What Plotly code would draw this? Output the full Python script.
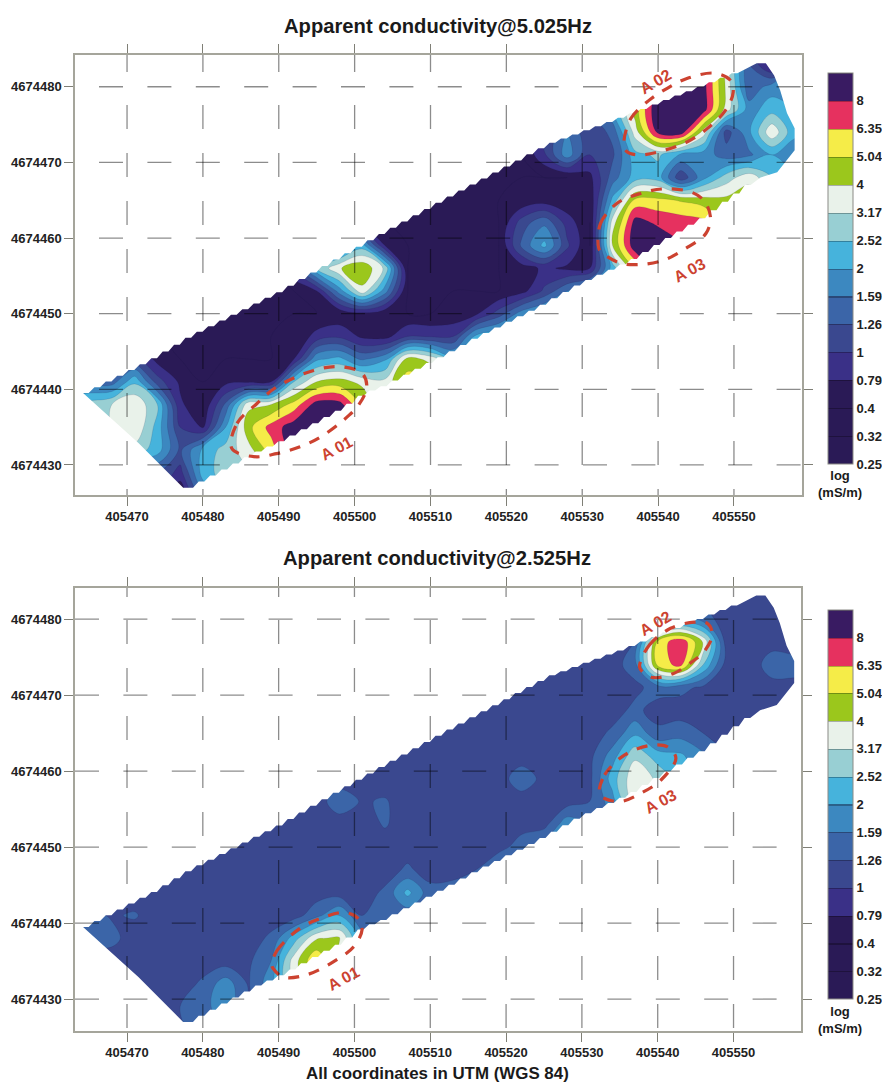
import numpy as np
import plotly.graph_objects as go

# ---- axis / scale data (coordinates shown as offsets added to the bases below)
X_BASE = 405000
Y_BASE = 4674000
X_TICKS = [405470, 405480, 405490, 405500, 405510, 405520, 405530, 405540, 405550]
Y_TICKS = [4674430, 4674440, 4674450, 4674460, 4674470, 4674480]
CLASS_LABELS = ["0.25", "0.32", "0.4", "0.79", "1", "1.26", "1.59", "2", "2.52", "3.17", "4", "5.04", "6.35", "8"]
CLASS_COLORS = ["#2a1a56", "#2a1a56", "#2a1a56", "#3a3087", "#3a488f", "#3b65a8", "#3c88c0", "#46b3dc",
                "#98cfd3", "#e9f2ea", "#9bc71c", "#f5ec48", "#e6315f", "#391b62"]

GRID_X = [462, 465, 468, 471, 474, 477, 480, 483, 486, 489, 492, 495, 498, 501, 504, 507, 510, 513, 516, 519,
          522, 525, 528, 531, 534, 537, 540, 543, 546, 549, 552, 555, 558, 561]
GRID_Y = [486, 483, 480, 477, 474, 471, 468, 465, 462, 459, 456, 453, 450, 447, 444, 441, 438, 435, 432, 429, 426]

# ---- conductivity, as position on the class scale (0 = 0.25 ... 13 = 8)
Z_5HZ = [
    [2]*22 + [5, 5, 6, 8, 12, 14, 13.5, 9.5, 5, 2.5, 6, 7],
    [2]*22 + [5, 5, 6, 8, 12, 14, 13.5, 9.5, 5, 2.5, 6, 7],
    [2]*22 + [5, 5, 6.5, 9, 13.2, 14, 13.4, 9.8, 5.2, 6.5, 7, 7],
    [2]*21 + [3, 5, 5, 7, 10.5, 14, 14, 13.5, 9.5, 6.5, 7.6, 7, 7],
    [2]*21 + [4, 6, 4.2, 5.3, 9.5, 13.3, 13.6, 9.5, 4.5, 6.8, 9.8, 7.2, 7],
    [2]*21 + [3.8, 6.6, 4, 4.8, 7.7, 8.2, 6.8, 6.5, 5.5, 5.8, 7, 6.5, 6.5],
    [2]*23 + [2.7, 5.5, 7.5, 7.5, 4.2, 6.7, 8.5, 9.7, 8, 7, 7],
    [2]*20 + [2.2, 2.5, 2.2, 2.2, 7.3, 11.3, 11.3, 10.9, 10.5, 10.3, 10.6, 8, 7, 7],
    [2]*20 + [4.5, 5.8, 3.6, 2, 9.5, 13.5, 12.8, 12.6, 12.3, 10.5, 9, 8, 7, 7],
    [2]*12 + [5.5, 7.5, 3, 2, 2, 2, 2, 2, 5.2, 7.3, 4.2, 2, 10, 13.8, 14, 13, 12, 10, 9, 8, 7, 7],
    [2]*10 + [4, 8, 9.9, 10.9, 8.8, 2, 2, 2, 2, 2, 2.5, 3.2, 2.8, 3, 7.5, 11, 13, 13, 12, 10, 9, 8, 7, 7],
    [2]*11 + [3, 6.5, 9.7, 6.5, 2, 2, 2, 2, 2, 2.6, 4.2, 6, 7.5, 8, 9, 9, 9, 9, 9, 9, 8, 7, 7],
    [2]*12 + [2.2, 2.7, 2.2, 2, 2, 2.2, 2.8, 4.5, 6.5, 7.5, 8, 8, 8, 8, 8, 8, 8, 8, 8, 8, 8, 8],
    [2]*10 + [2.1, 3.4, 3.8, 2.8, 2.6, 4, 3.9, 4, 7.3, 8, 8, 8, 8, 8, 8, 8, 8, 8, 8, 8, 8, 8, 8, 8],
    [6, 6, 6, 4.5, 2.6, 2, 2, 2, 2, 2, 3, 6.8, 7.3, 5.8, 6.8, 10.4, 9.7, 7.5, 8, 8, 8, 8, 8, 8, 8, 8, 8, 8, 8, 8, 8, 8, 8, 8],
    [5.5, 5.5, 5.5, 7.8, 4.5, 2.8, 2, 2.7, 2.8, 3, 8, 10, 10.4, 9.7, 9.3, 11.5, 11, 9, 8, 8, 8, 8, 8, 8, 8, 8, 8, 8, 8, 8, 8, 8, 8, 8],
    [8, 8.5, 9, 9.9, 8, 3.2, 2.1, 5.2, 9.7, 10, 11.4, 13.5, 13.4, 11, 9, 11, 9, 9, 9, 9, 9, 9, 9, 9, 9, 9, 9, 9, 9, 9, 9, 9, 9, 9],
    [8, 8.5, 9, 9.9, 7.6, 4, 2.9, 7, 10.7, 12.4, 13.6, 14, 14, 13, 11, 10, 9, 9, 9, 9, 9, 9, 9, 9, 9, 9, 9, 9, 9, 9, 9, 9, 9, 9],
    [9, 9, 9, 8.6, 7.5, 4.8, 7.3, 8.4, 9.6, 11.5, 13.5, 14, 14, 13, 11, 10, 9, 9, 9, 9, 9, 9, 9, 9, 9, 9, 9, 9, 9, 9, 9, 9, 9, 9],
    [5, 5, 5, 5, 5, 3.6, 7.5, 8.5, 9, 10, 11, 12, 12, 12, 11, 10, 9, 9, 9, 9, 9, 9, 9, 9, 9, 9, 9, 9, 9, 9, 9, 9, 9, 9],
    [4, 4, 4, 4, 4, 2, 6, 8, 9, 10, 11, 12, 12, 12, 11, 10, 9, 9, 9, 9, 9, 9, 9, 9, 9, 9, 9, 9, 9, 9, 9, 9, 9, 9],
]
B = 4.5
Z_2HZ = [
    [B]*34,
    [B]*34,
    [B]*27 + [6, 5.5] + [B]*5,
    [B]*25 + [5, 11.2, 12.9, 9.9, 4.6, B, 4.7, B, B],
    [B]*25 + [5.6, 11.3, 12.4, 8, 4.6, B, 5.4, 5.4, 5.4],
    [B]*25 + [4.7, 5.5, 5.3, 4.8, B, B, 4.7, 4.7, B],
    [B]*25 + [5.3] + [B]*8,
    [B]*24 + [5.2, 6.8, 5.3, 5.6, 5] + [B]*5,
    [B]*23 + [4.7, 6.5, 8.8, 7.5, 7.2, 6.2, 5] + [B]*4,
    [B]*20 + [5.6, 4.7, B, 4.7, 7.5, 9.8, 8.8, 7.5, 6.5, 5] + [B]*4,
    [B]*12 + [5.6, 4.9, 5.1] + [B]*7 + [4.5, 5, 6.5, 9.6, 9, 7.5, 6] + [B]*5,
    [B]*14 + [5.1] + [B]*6 + [4.6, 6.7, 6, 6] + [5]*9,
    [B]*19 + [4.5, 5.6, 6.5, 6.8, 6.5] + [6]*10,
    [B]*15 + [5.2, B, B, 5, 6.5, 7] + [7]*13,
    [B]*14 + [5.2, 7.3, 5.4, 5.6, 6] + [6.5]*15,
    [5.3, 5.3, 4.9, 5.1] + [B]*7 + [5.7, 7, 5, 5.1, 5.3, 5] + [5.5]*17,
    [5.4, 5.4, 5.3] + [B]*6 + [5.2, 7.5, 9.9, 10.15, 6.5, 5] + [5]*19,
    [B]*8 + [4.8, 6, 9.5, 12, 9.3, 6] + [5]*20,
    [B]*6 + [5.2, 6.6, 4.9, 6.6, 9, 11, 9, 6] + [5]*20,
    [B]*5 + [5, 5.6, 6.7, 4.9] + [5.5]*25,
    [B]*5 + [4.8, 5.6, 6] + [5.5]*26,
]

# ---- survey strip outline (same in both maps)
TOP_EDGE_X = [464.2, 473.4, 478.0, 484.0, 490.0, 495.5, 501.7, 511.3, 525.4, 535.0, 550.0]
TOP_EDGE_Y = [439.5, 444.2, 447.0, 450.0, 453.0, 456.2, 459.7, 465.0, 472.5, 476.0, 481.9]
TIP_X = [553.0, 554.2, 555.3, 556.1, 557.0, 558.0, 558.0, 555.7, 553.5]
TIP_Y = [483.1, 483.1, 481.5, 479.5, 476.5, 474.5, 471.6, 468.7, 468.0]
BOTTOM_EDGE_X = [552.2, 546.5, 541.2, 536.8, 530.2, 524.5, 516.6, 512.2, 503.8, 501.7, 499.0, 491.1, 487.5, 481.3, 478.7]
BOTTOM_EDGE_Y = [467.0, 462.8, 459.7, 457.0, 454.0, 450.8, 446.9, 444.5, 440.2, 439.5, 437.6, 433.3, 431.7, 428.4, 427.0]
SOUTH_X = [477.4, 471.5, 464.2]
SOUTH_Y = [427.0, 432.9, 439.5]

# ---- anomaly outlines and labels, one tuple per map
A01_TOP = ([483.8, 484.5, 487.1, 489.7, 494.6, 498.1, 501.0, 501.6, 500.5, 498.5, 495.5, 492.8, 489.7, 486.7, 483.8],
           [432.2, 435.5, 438.1, 440.3, 442.5, 443.0, 442.1, 440.3, 437.9, 435.9, 433.7, 432.4, 431.5, 431.1, 432.2])
A02_TOP = ([535.5, 536.4, 538.8, 541.2, 543.8, 547.4, 549.5, 549.9, 548.9, 546.5, 543.8, 540.8, 537.7, 535.9, 535.5],
           [472.5, 475.8, 478.2, 479.8, 481.1, 481.8, 480.9, 479.3, 476.9, 474.5, 472.7, 471.6, 471.0, 471.4, 472.5])
A03_TOP = ([532.2, 532.4, 534.6, 537.7, 540.8, 544.3, 546.0, 546.9, 546.3, 543.6, 540.8, 537.7, 535.0, 532.8, 532.2],
           [458.6, 461.9, 464.6, 465.9, 466.5, 466.1, 465.0, 462.8, 460.6, 458.6, 457.1, 456.5, 456.7, 457.9, 458.6])
A01_BOT = ([489.1, 489.8, 492.8, 495.5, 498.6, 500.5, 501.0, 499.9, 497.2, 493.7, 490.6, 489.3, 489.1],
           [434.5, 436.4, 439.3, 440.6, 441.4, 440.6, 439.1, 436.9, 434.9, 433.2, 432.9, 434.0, 434.5])
A02_BOT = ([537.6, 538.9, 541.7, 544.8, 546.6, 547.2, 546.1, 544.8, 542.2, 539.5, 538.2, 537.6],
           [473.7, 476.6, 478.8, 479.6, 479.4, 477.9, 475.7, 474.6, 472.9, 472.3, 472.9, 473.7])
A03_BOT = ([532.3, 533.0, 535.6, 539.1, 541.3, 542.4, 540.4, 537.8, 535.1, 533.0, 532.3],
           [457.1, 459.5, 462.1, 463.4, 463.2, 461.7, 458.8, 457.1, 456.0, 456.4, 457.1])
LABELS_TOP = [("A 01", 497.6, 432.2, -28), ("A 02", 539.7, 480.7, -30), ("A 03", 544.1, 455.7, -28)]
LABELS_BOT = [("A 01", 498.6, 432.7, -28), ("A 02", 539.7, 479.4, -30), ("A 03", 540.4, 456.0, -28)]

FONT = "Liberation Sans"
W, H = 882, 1082
XR_TOP = (405463.14, 405558.97)
YR_TOP = (4674426.03, 4674484.2)
XR_BOT = (405463.14, 405558.9)
YR_BOT = (4674425.8, 4674484.1)
RED = "#cc4230"
GRID = "rgba(0,0,0,0.45)"


def jag_edge(ex, ey, direction):
    order = np.argsort(ex)
    xs = np.arange(ex[0], ex[-1], direction * 1.5)
    ys = np.interp(xs, np.array(ex)[order], np.array(ey)[order])
    out_x, out_y = [], []
    for a, b in zip(xs, ys):
        out_x += [a, a + direction * 0.75]
        out_y += [b, b]
    return out_x, out_y


tx, ty = jag_edge(TOP_EDGE_X, TOP_EDGE_Y, 1)
bx, by = jag_edge(BOTTOM_EDGE_X, BOTTOM_EDGE_Y, -1)
strip_x = np.array(tx + TIP_X + bx + SOUTH_X) + X_BASE
strip_y = np.array(ty + TIP_Y + by + SOUTH_Y) + Y_BASE


def mask_xy(xr, yr):
    wy = strip_y[-1]
    x0, x1, y0, y1 = xr[0] - 5, xr[1] + 5, yr[0] - 5, yr[1] + 5
    mx = [x0, x0, x1, x1, x0, x0] + list(strip_x[::-1]) + [x0]
    my = [wy, y1, y1, y0, y0, wy] + list(strip_y[::-1]) + [wy]
    return mx, my


def darker(col, f=0.72):
    r, g, b = int(col[1:3], 16), int(col[3:5], 16), int(col[5:7], 16)
    return f"rgb({int(r * f)},{int(g * f)},{int(b * f)})"


step_scale = []
bar_scale = []
for k, c in enumerate(CLASS_COLORS):
    step_scale += [[k / 14, c], [(k + 1) / 14, c]]
    bar_scale += [[k / 14, c], [(k + 0.96) / 14, c], [(k + 0.96) / 14, darker(c)], [(k + 1) / 14, darker(c)]]

fig = go.Figure()


def add_map(z, xr, yr, xa, ya, cb_top, cb_bottom, outlines):
    fig.add_trace(go.Contour(
        x=[v + X_BASE for v in GRID_X], y=[v + Y_BASE for v in GRID_Y], z=z,
        xaxis=xa, yaxis=ya, colorscale=step_scale, autocontour=False, showscale=False,
        contours=dict(start=1, end=13, size=1, coloring="fill", showlines=True),
        line=dict(width=0.5, color="rgba(20,20,60,0.25)", smoothing=1),
        hoverinfo="skip",
    ))
    mx, my = mask_xy(xr, yr)
    fig.add_trace(go.Scatter(x=mx, y=my, xaxis=xa, yaxis=ya, mode="lines", fill="toself",
                             fillcolor="white", line=dict(width=0), hoverinfo="skip", showlegend=False))
    for ox, oy in outlines:
        fig.add_trace(go.Scatter(x=[v + X_BASE for v in ox], y=[v + Y_BASE for v in oy], xaxis=xa, yaxis=ya,
                                 mode="lines", hoverinfo="skip", showlegend=False,
                                 line=dict(color=RED, width=3.2, dash="11px,10px", shape="spline", smoothing=1)))
    # class legend: full-height bands from 0.25 up to the open top class
    fig.add_trace(go.Scatter(
        x=[None], y=[None], xaxis=xa, yaxis=ya, mode="markers", hoverinfo="skip", showlegend=False,
        marker=dict(
            color=[0], cmin=0, cmax=14, colorscale=bar_scale, showscale=True,
            colorbar=dict(
                x=828 / W, xanchor="left", xpad=0, ypad=0, thickness=25, thicknessmode="pixels",
                len=(cb_bottom - cb_top) / H, lenmode="fraction", y=1 - cb_bottom / H, yanchor="bottom",
                tickmode="array", tickvals=list(range(14)), ticktext=CLASS_LABELS, ticks="",
                tickfont=dict(family=FONT, size=13, color="#222222", weight=700),
                outlinecolor="#8a8a85", outlinewidth=1, borderwidth=0),
        ),
    ))


add_map(Z_5HZ, XR_TOP, YR_TOP, "x", "y", 73, 464, [A01_TOP, A02_TOP, A03_TOP])
add_map(Z_2HZ, XR_BOT, YR_BOT, "x2", "y2", 610, 999, [A01_BOT, A02_BOT, A03_BOT])

V_DASH_TOP = "17px,33px," + ",".join(["24px"] * 18)
V_DASH_BOT = "9px,23px," + ",".join(["24px"] * 18)
H_DASH_TOP = "0px,24px,24px,0.4px"
H_DASH_BOT = "24px,24.4px"

shapes = []
for xname, yname, vd, hd in [("x", "y", V_DASH_TOP, H_DASH_TOP), ("x2", "y2", V_DASH_BOT, H_DASH_BOT)]:
    for t in X_TICKS:
        shapes.append(dict(type="line", xref=xname, yref=yname + " domain", x0=t, x1=t, y0=1, y1=0,
                           line=dict(color=GRID, width=1.3, dash=vd)))
    for t in Y_TICKS:
        shapes.append(dict(type="line", xref=xname + " domain", yref=yname, x0=0, x1=1, y0=t, y1=t,
                           line=dict(color=GRID, width=1.3, dash=hd)))

annotations = []
for xname, yname, labels in [("x", "y", LABELS_TOP), ("x2", "y2", LABELS_BOT)]:
    for text, lx, ly, ang in labels:
        annotations.append(dict(text=text, x=lx + X_BASE, y=ly + Y_BASE, xref=xname, yref=yname, showarrow=False,
                                textangle=ang, font=dict(family=FONT, size=16, color=RED, weight=700)))


def paper_text(text, px, py, size):
    annotations.append(dict(text=text, x=px / W, y=1 - py / H, xref="paper", yref="paper", showarrow=False,
                            xanchor="center", yanchor="middle", align="center",
                            font=dict(family=FONT, size=size, color="#1a1a1a", weight=700)))


paper_text("Apparent conductivity@5.025Hz", 438, 26, 20.2)
paper_text("Apparent conductivity@2.525Hz", 437, 558, 20.2)
paper_text("All coordinates in UTM (WGS 84)", 437, 1073, 16.9)
paper_text("log<br>(mS/m)", 840, 484, 13)
paper_text("log<br>(mS/m)", 840, 1020, 13)

axis_style = dict(showgrid=False, zeroline=False, showline=True, linecolor="#a5a59b", linewidth=1.5,
                  mirror="ticks", ticks="outside", ticklen=9, tickwidth=1.3, tickcolor="#7f7f76",
                  tickmode="array", tickformat="d",
                  tickfont=dict(family=FONT, size=13, color="#222222", weight=700))

fig.update_layout(
    width=W, height=H, margin=dict(l=0, r=0, t=0, b=0), paper_bgcolor="white", plot_bgcolor="white",
    showlegend=False, shapes=shapes, annotations=annotations,
    xaxis=dict(domain=[75 / W, 802 / W], range=list(XR_TOP), tickvals=X_TICKS, anchor="y", **axis_style),
    yaxis=dict(domain=[1 - 495 / H, 1 - 55 / H], range=list(YR_TOP), tickvals=Y_TICKS, anchor="x", **axis_style),
    xaxis2=dict(domain=[75 / W, 801 / W], range=list(XR_BOT), tickvals=X_TICKS, anchor="y2", **axis_style),
    yaxis2=dict(domain=[1 - 1031 / H, 1 - 588 / H], range=list(YR_BOT), tickvals=Y_TICKS, anchor="x2", **axis_style),
)

fig.write_html("out.html", config={"displayModeBar": False}, post_script="document.body.style.margin='0';")
